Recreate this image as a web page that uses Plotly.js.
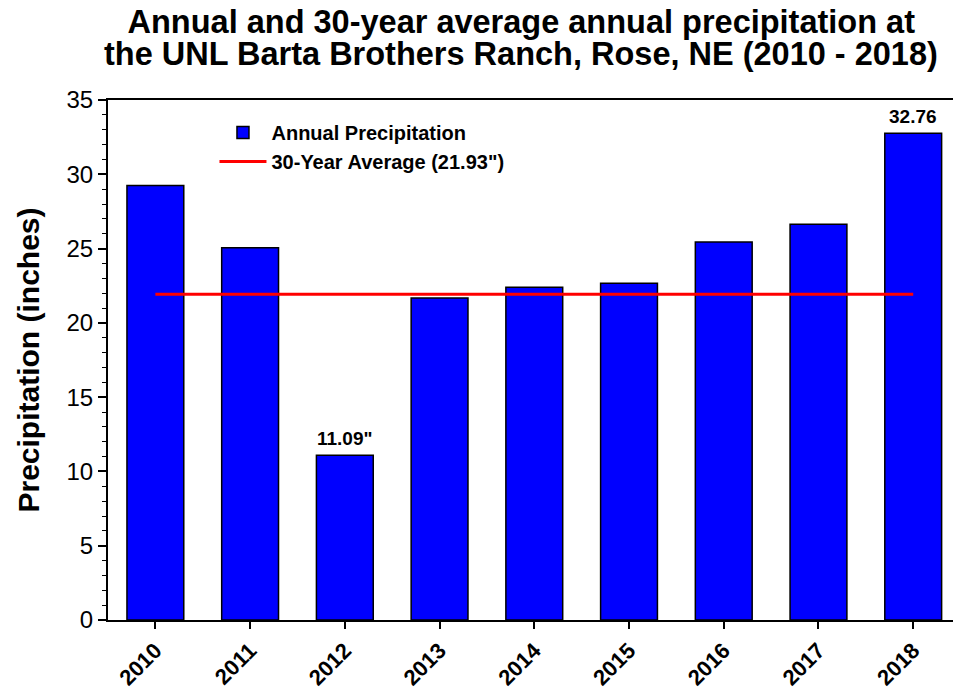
<!DOCTYPE html>
<html>
<head>
<meta charset="utf-8">
<script src="https://cdn.plot.ly/plotly-3.0.1.min.js"></script>
<style>html,body{margin:0;padding:0;background:#fff;}#chart{width:953px;height:691px;}</style>
</head>
<body>
<div id="chart"></div>
<script>
const years = ["2010","2011","2012","2013","2014","2015","2016","2017","2018"];
const precip = [29.25, 25.06, 11.09, 21.67, 22.39, 22.66, 25.44, 26.63, 32.76];
const avg30 = 21.93;
const avgLine = years.map(() => avg30);
const labelYears = ["2012", "2018"];
const labelTexts = ["11.09\"", "32.76"];
const labelValues = [11.09, 32.76];
const titleLine1 = "Annual and 30-year average annual precipitation at";
const titleLine2 = "the UNL Barta Brothers Ranch, Rose, NE (2010 - 2018)";

const font = "Liberation Sans, Arial, sans-serif";

const traces = [
  {
    type: "bar", x: years, y: precip, name: "Annual Precipitation",
    width: 0.6,
    marker: {color: "#0000FF", line: {color: "#000000", width: 1.5}},
    hoverinfo: "x+y"
  },
  {
    type: "scatter", mode: "lines", x: years, y: avgLine,
    name: "30-Year Average (21.93\")",
    line: {color: "#FF0000", width: 3}
  }
];

const annotations = labelYears.map((yr, i) => ({
  x: years.indexOf(yr), y: labelValues[i], xref: "x", yref: "y",
  text: "<b>" + labelTexts[i] + "</b>", showarrow: false,
  yanchor: "bottom", yshift: 4,
  font: {family: font, size: 19, color: "#000"}
}));
annotations.push({
  xref: "paper", yref: "paper", x: 0.489, y: 1.089,
  xanchor: "center", yanchor: "middle", showarrow: false,
  text: "<b>" + titleLine2 + "</b>",
  font: {family: font, size: 32.5, color: "#000"}
});

const layout = {
  width: 953, height: 691,
  margin: {l: 108, r: 0, t: 100, b: 71, pad: 0},
  paper_bgcolor: "#fff", plot_bgcolor: "#fff",
  font: {family: font, color: "#000"},
  title: {
    text: "<b>" + titleLine1 + "</b>",
    font: {family: font, size: 32.5, color: "#000"},
    x: 0.547, xref: "container", xanchor: "center",
    y: 0.969, yref: "container", yanchor: "middle"
  },
  xaxis: {
    type: "category", range: [-0.5, 8.42],
    showline: true, linecolor: "#000", linewidth: 2, mirror: true,
    ticks: "outside", ticklen: 7, tickwidth: 2, tickcolor: "#000",
    tickangle: -45,
    tickfont: {family: font, size: 22, color: "#000", weight: "bold"},
    showgrid: false, zeroline: false
  },
  yaxis: {
    range: [0, 35], dtick: 5, tick0: 0,
    showline: true, linecolor: "#000", linewidth: 2,
    ticks: "outside", ticklen: 8, tickwidth: 2, tickcolor: "#000",
    minor: {dtick: 1, ticks: "outside", ticklen: 4, tickwidth: 1, tickcolor: "#000", showgrid: false},
    tickfont: {family: font, size: 24, color: "#000"},
    showgrid: false, zeroline: false,
    title: {text: "<b>Precipitation (inches)</b>", font: {family: font, size: 30, color: "#000"}, standoff: 18}
  },
  showlegend: true,
  legend: {
    x: 0.126, y: 0.975, xanchor: "left", yanchor: "top",
    bgcolor: "rgba(0,0,0,0)",
    font: {family: font, size: 20, color: "#000", weight: "bold"},
    tracegroupgap: 0, itemwidth: 47
  },
  annotations: annotations,
  bargap: 0.4
};

Plotly.newPlot("chart", traces, layout, {displayModeBar: false, staticPlot: true});
</script>
</body>
</html>
